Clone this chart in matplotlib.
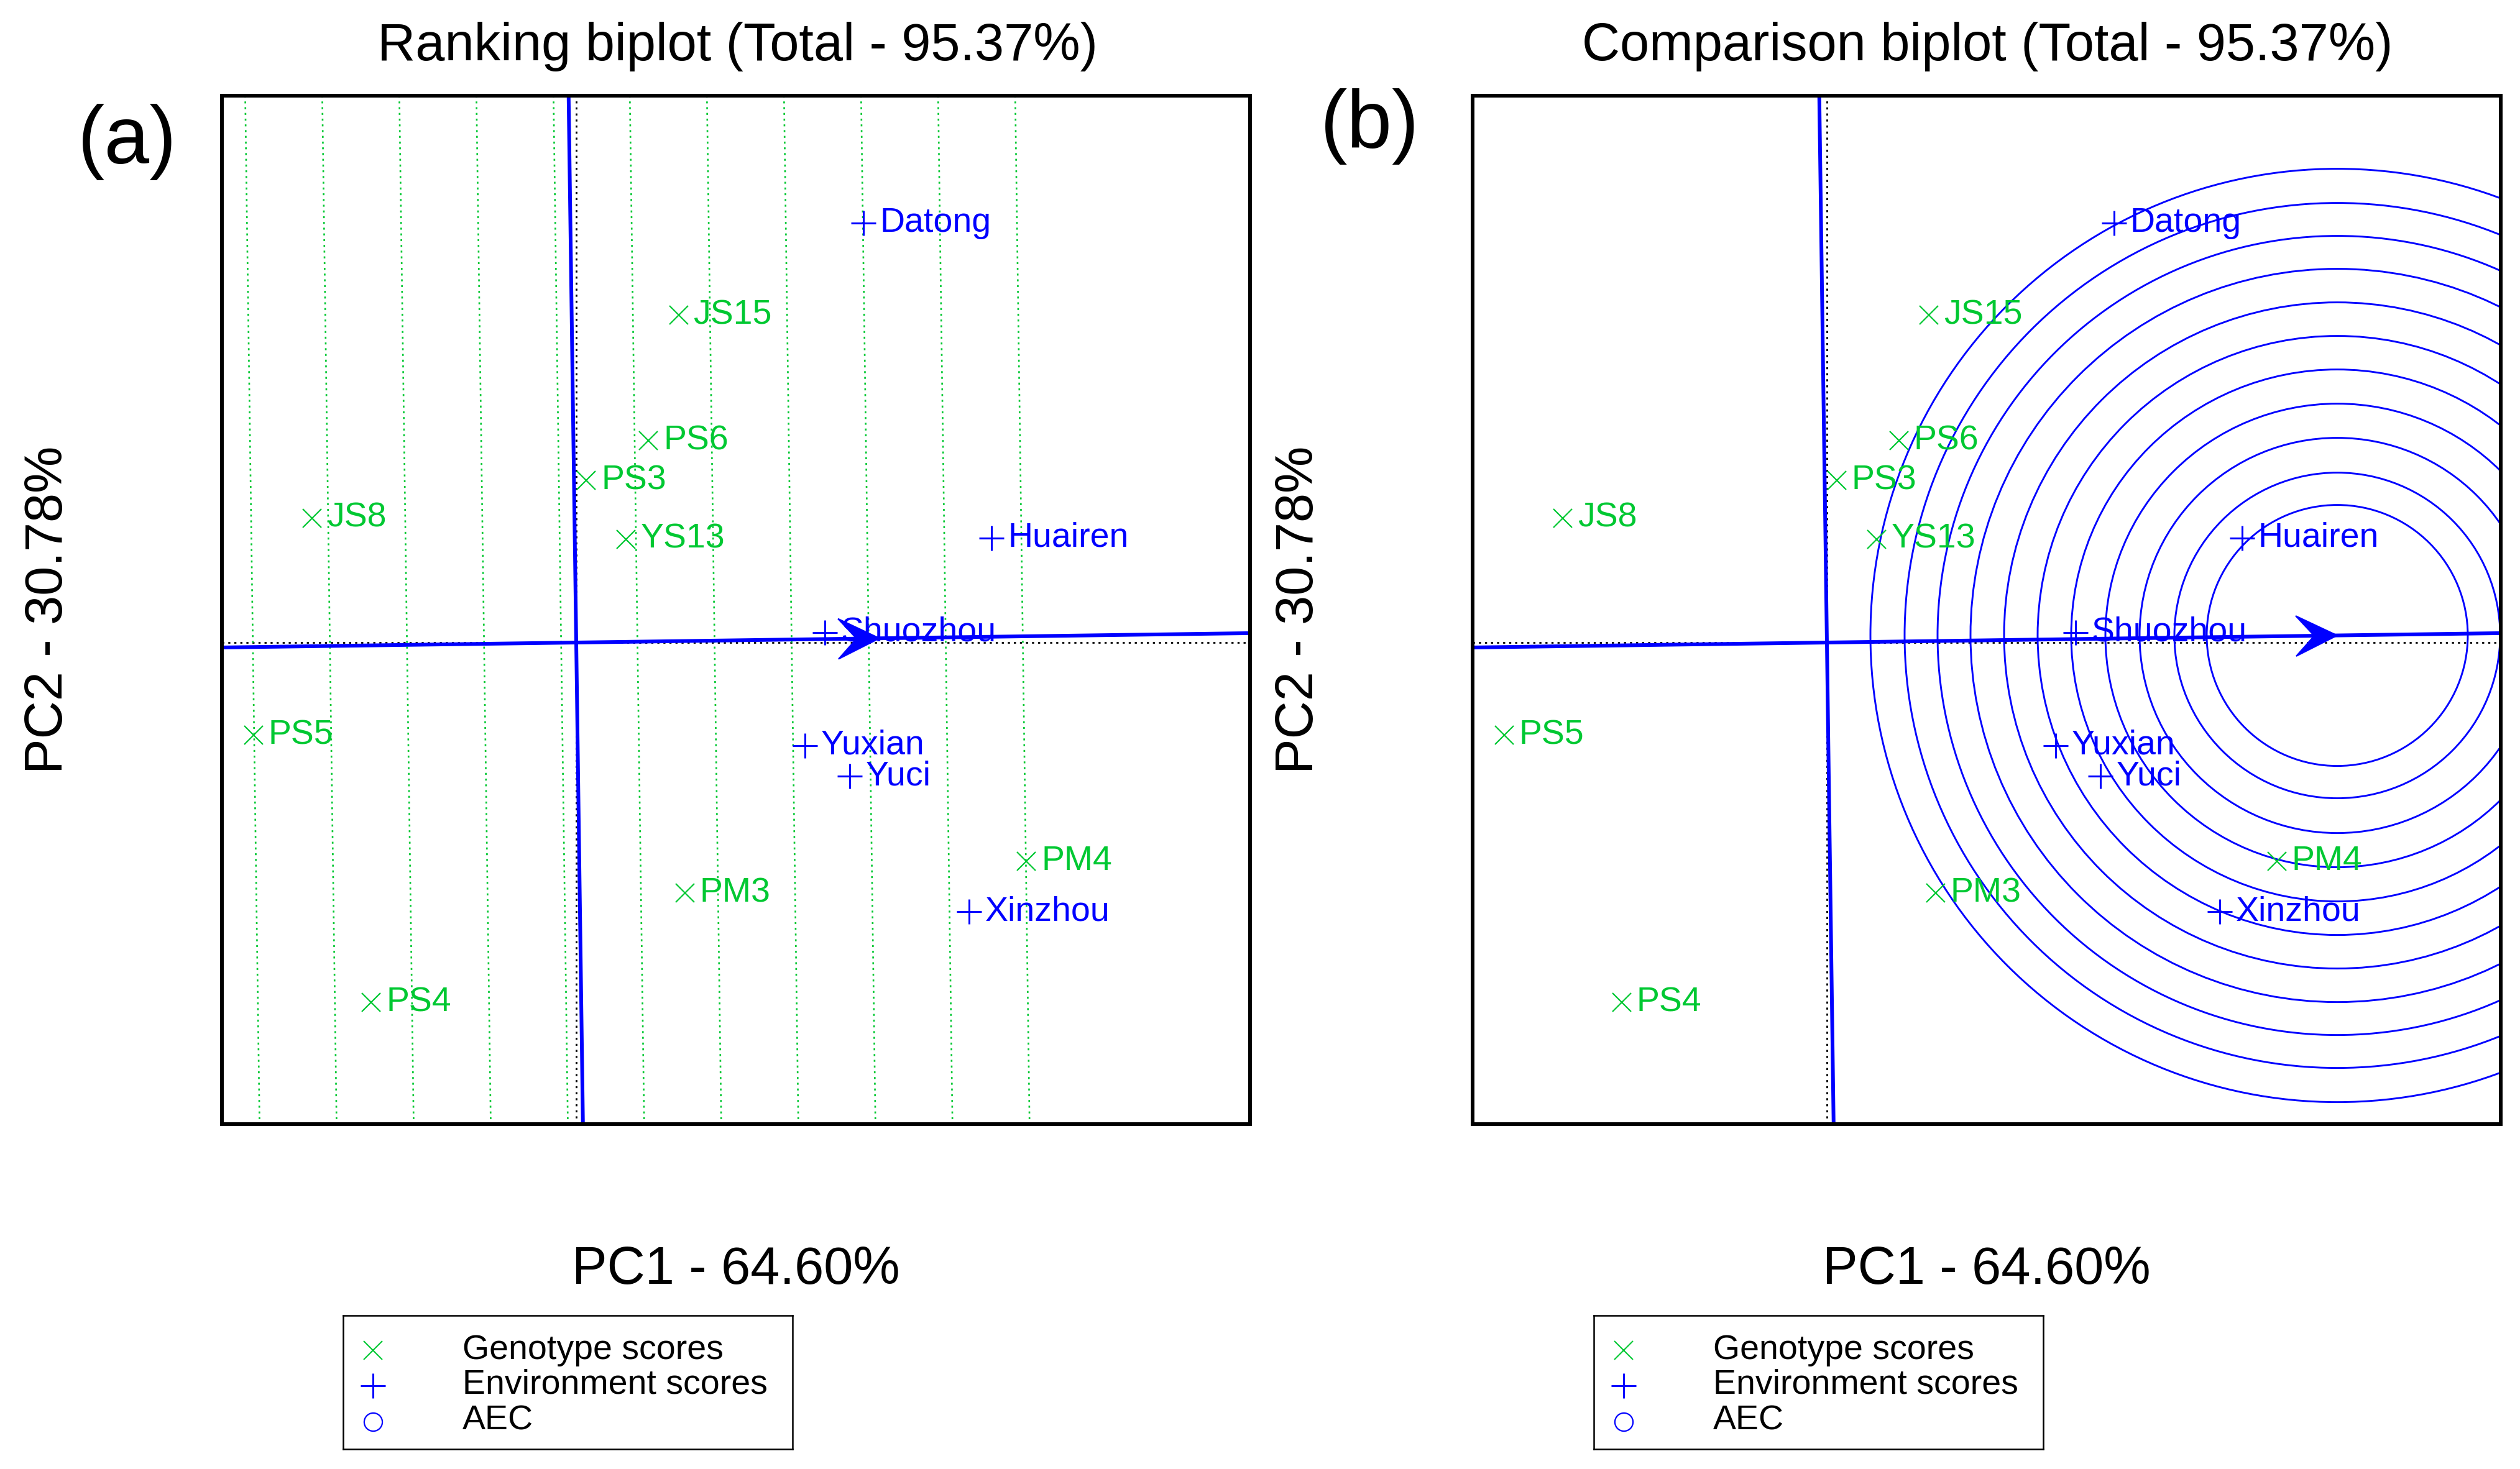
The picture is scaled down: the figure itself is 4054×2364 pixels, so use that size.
import numpy as np
import matplotlib
matplotlib.use("Agg")
import matplotlib.pyplot as plt
from matplotlib.patches import Circle, Polygon

plt.rcParams['font.family'] = ['Liberation Sans', 'DejaVu Sans']

# ---------------- data ----------------
genotypes = ["JS15", "PS6", "PS3", "JS8", "YS13", "PS5", "PM4", "PM3", "PS4"]
geno_pc1 = [1.645, 1.16, 0.16, -4.25, 0.80, -5.19, 7.24, 1.75, -3.30]
geno_pc2 = [5.27, 3.25, 2.61, 2.00, 1.66, -1.49, -3.52, -4.03, -5.79]

environments = ["Datong", "Huairen", "Shuozhou", "Yuxian", "Yuci", "Xinzhou"]
env_pc1 = [4.62, 6.68, 4.00, 3.68, 4.40, 6.32]
env_pc2 = [6.75, 1.68, 0.16, -1.66, -2.15, -4.33]

aec_point = [4.88, 0.068]        # average environment (arrow of ranking biplot)
ideal_point = [8.21, 0.114]      # ideal genotype (centre of circles)
rank_levels = [-5.202, -3.963, -2.723, -1.483, -0.243, 0.985,
               2.225, 3.465, 4.705, 5.944, 7.184]
circle_radii = [2.10, 2.62, 3.18, 3.73, 4.28, 4.82, 5.36, 5.90, 6.43, 6.96, 7.51]

titles = ["Ranking biplot (Total - 95.37%)", "Comparison biplot (Total - 95.37%)"]
panel_tags = ["(a)", "(b)"]
xlabel_text = "PC1 - 64.60%"
ylabel_text = "PC2 - 30.78%"
legend_labels = ["Genotype scores", "Environment scores", "AEC"]

# ---------------- style ----------------
W, H = 4055, 2364
DPI = 100
GREEN = '#00C832'
BLUE = '#0000FF'
DOT = (0, (1.2, 2.3))

def fx(p):
    return p / W

def fy(p):
    return 1 - p / H

fig = plt.figure(figsize=(W / DPI, H / DPI), dpi=DPI)
fig.patch.set_facecolor('white')

panel_offsets = [0, 2012]
ax_left_px, ax_top_px, ax_w_px, ax_h_px = 357, 154, 1654, 1655


def draw_panel(ax, kind):
    ax.set_xlim(-5.70, 10.84)
    ax.set_ylim(-7.75, 8.80)
    ax.set_xticks([])
    ax.set_yticks([])
    for sp in ax.spines.values():
        sp.set_linewidth(4.3)
        sp.set_color('black')
        sp.set_zorder(10)

    ax.axhline(0, color='black', lw=2.0, ls=DOT, zorder=1)
    ax.axvline(0, color='black', lw=2.0, ls=DOT, zorder=1)

    a = np.array(aec_point, dtype=float)
    u = a / np.hypot(*a)
    v = np.array([-u[1], u[0]])

    if kind == 'rank':
        for s in rank_levels:
            p = s * u
            ax.axline(tuple(p), tuple(p + v), color=GREEN, lw=1.9, ls=DOT, zorder=1.5)
        tip = a
    else:
        for r in circle_radii:
            ax.add_patch(Circle(tuple(ideal_point), r, fill=False, ec=BLUE,
                                lw=2.1, zorder=2))
        tip = np.array(ideal_point, dtype=float)

    # AEC abscissa and ordinate
    ax.axline((0, 0), tuple(a), color=BLUE, lw=4.3, zorder=3)
    ax.axline((0, 0), tuple(v), color=BLUE, lw=4.3, zorder=3)

    # arrowhead
    L, alpha = 0.74, np.deg2rad(26)
    w1 = tip - L * np.cos(alpha) * u + L * np.sin(alpha) * v
    w2 = tip - L * np.cos(alpha) * u - L * np.sin(alpha) * v
    notch = tip - 0.5 * L * u
    ax.add_patch(Polygon([tip, w1, notch, w2], closed=True, fc=BLUE, ec=BLUE,
                         lw=1.5, zorder=3.5))

    # scores
    ax.plot(geno_pc1, geno_pc2, ls='none', marker='x', ms=22, mew=1.6,
            color=GREEN, zorder=4)
    ax.plot(env_pc1, env_pc2, ls='none', marker='+', ms=29, mew=2.2,
            color=BLUE, zorder=4)
    for name, x, y in zip(genotypes, geno_pc1, geno_pc2):
        ax.annotate(name, (x, y), xytext=(24, -14), textcoords='offset pixels',
                    fontsize=40, color=GREEN, ha='left', va='baseline', zorder=5)
    for name, x, y in zip(environments, env_pc1, env_pc2):
        ax.annotate(name, (x, y), xytext=(26, -14), textcoords='offset pixels',
                    fontsize=40, color=BLUE, ha='left', va='baseline', zorder=5)


kinds = ['rank', 'compare']
title_cx = [1186, 3197]
tag_pos = [(205, 263), (2204, 238)]

for i, kind in enumerate(kinds):
    off = panel_offsets[i]
    left = ax_left_px + off
    ax = fig.add_axes([fx(left), 1 - (ax_top_px + ax_h_px) / H,
                       ax_w_px / W, ax_h_px / H])
    draw_panel(ax, kind)

    cx = left + ax_w_px / 2
    fig.text(fx(title_cx[i]), fy(97), titles[i], ha='center', va='baseline',
             fontsize=61)
    fig.text(fx(cx), fy(2066), xlabel_text, ha='center', va='baseline',
             fontsize=61)
    fig.text(fx(100 + off), fy(981.5), ylabel_text, rotation=90,
             rotation_mode='anchor', ha='center', va='baseline', fontsize=61)
    fig.text(fx(tag_pos[i][0]), fy(tag_pos[i][1]), panel_tags[i], ha='center',
             va='baseline', fontsize=94)

    # legend box
    lx0, lx1, ly0, ly1 = 552 + off, 1275 + off, 2117, 2332
    lax = fig.add_axes([fx(lx0), 1 - ly1 / H, (lx1 - lx0) / W, (ly1 - ly0) / H])
    lax.set_xlim(0, 1)
    lax.set_ylim(0, 1)
    lax.set_xticks([])
    lax.set_yticks([])
    for sp in lax.spines.values():
        sp.set_linewidth(1.8)
    marker_y = [0.7395, 0.4744, 0.2047]
    text_y = [0.6744, 0.4140, 0.1442]
    lax.plot([0.0664], [marker_y[0]], marker='x', ms=21, mew=1.5, color=GREEN)
    lax.plot([0.0664], [marker_y[1]], marker='+', ms=29, mew=2.2, color=BLUE)
    lax.plot([0.0664], [marker_y[2]], marker='o', ms=21, mew=1.6, mfc='none',
             mec=BLUE)
    for lab, ty in zip(legend_labels, text_y):
        lax.text(0.2656, ty, lab, fontsize=40, va='baseline', ha='left')

fig.savefig('out.png', dpi=DPI)
